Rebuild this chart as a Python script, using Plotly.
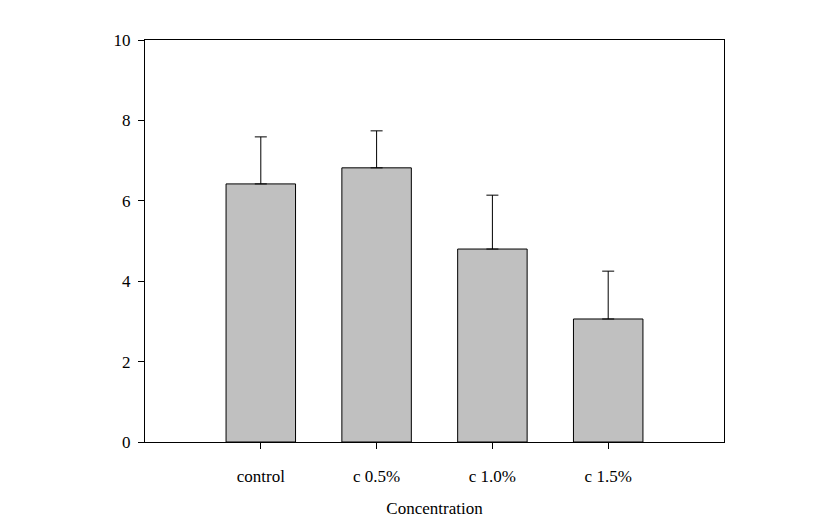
import plotly.graph_objects as go

# values
groups = ['control', 'c 0.5%', 'c 1.0%', 'c 1.5%']
means = [6.42, 6.82, 4.80, 3.06]
errors = [1.17, 0.92, 1.34, 1.19]
y_ticks = [0, 2, 4, 6, 8, 10]

font = 'Liberation Serif, Times New Roman, serif'

fig = go.Figure(go.Bar(
    x=list(range(len(groups))),
    y=means,
    width=0.6,
    marker=dict(color='#c0c0c0', line=dict(color='black', width=1)),
    error_y=dict(type='data', array=errors, arrayminus=[0] * len(errors),
                 symmetric=False, color='black', thickness=1, width=6),
))

fig.update_xaxes(
    range=[-1, 4],
    tickvals=list(range(len(groups))),
    ticktext=groups,
    ticks='outside', ticklen=6, tickcolor='black',
    showline=True, linecolor='black', linewidth=1, mirror=True,
    showgrid=False, zeroline=False,
    ticklabelstandoff=13,
    automargin=False,
    title=dict(text='Concentration', standoff=16, font=dict(size=17)),
)
fig.update_yaxes(
    range=[0, 10],
    tickvals=y_ticks,
    ticks='outside', ticklen=6, tickcolor='black',
    showline=True, linecolor='black', linewidth=1, mirror=True,
    showgrid=False, zeroline=False,
    ticklabelstandoff=4,
    automargin=False,
)

fig.update_layout(
    width=831, height=521,
    margin=dict(l=137, r=115, t=32, b=87),
    plot_bgcolor='white', paper_bgcolor='white',
    font=dict(family=font, size=17, color='black'),
    showlegend=False,
)

fig.write_html("out.html")
